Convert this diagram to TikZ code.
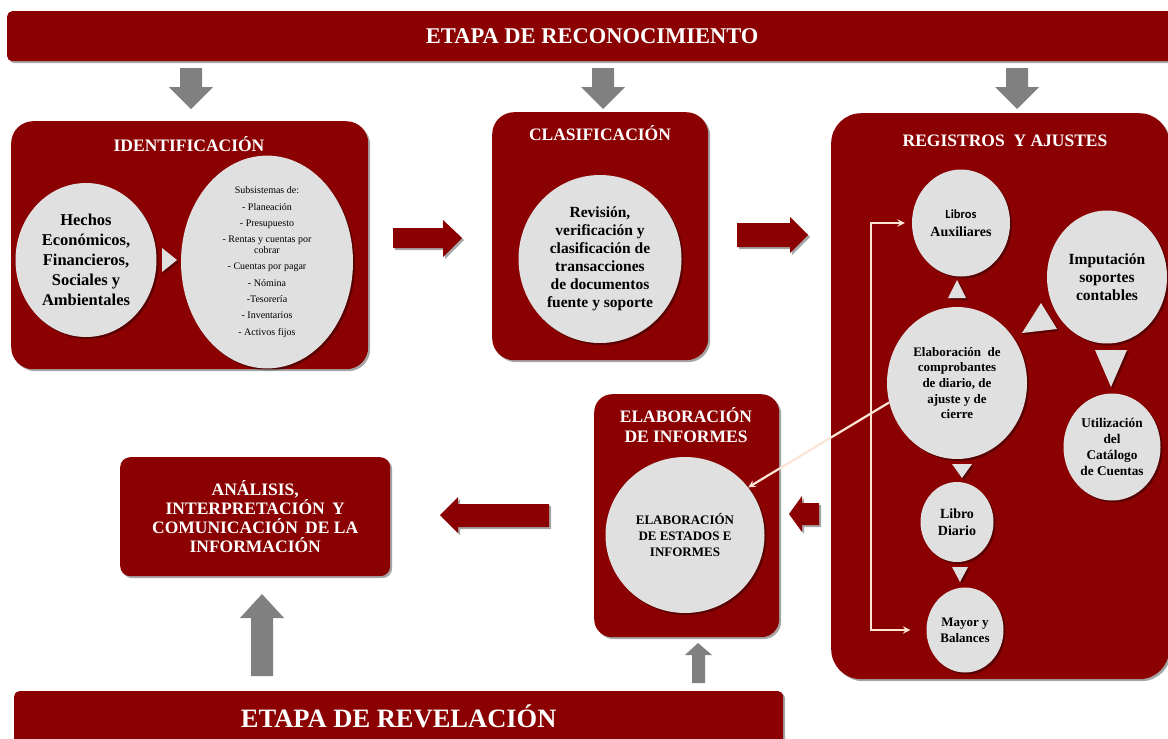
\documentclass[tikz,border=0pt]{standalone}
\usepackage{fontspec}
\setmainfont{Liberation Serif}
\newfontfamily\calfont{Carlito}
\usetikzlibrary{calc, positioning, shapes.geometric, shadows}

\definecolor{darkred}{RGB}{139,0,0}
\definecolor{bubblegray}{RGB}{224,224,224}
\definecolor{arrowgray}{RGB}{128,128,128}
\definecolor{cream}{RGB}{253,229,214}

\tikzset{
  softshadow/.style={drop shadow={shadow xshift=2pt, shadow yshift=-2pt, opacity=0.35, fill=black}},
  stagebar/.style={fill=darkred, rounded corners=5pt, anchor=north west, inner sep=0pt,
    text=white, text depth=0pt, softshadow},
  phasebox/.style={fill=darkred, anchor=north west, inner sep=0pt, softshadow},
  phasetitle/.style={text=white, align=center, inner sep=0pt,
    font=\bfseries\fontsize{17.5}{20}\selectfont},
  bubble/.style={ellipse, fill=bubblegray, inner sep=0pt, align=center, softshadow},
  pointer/.style={fill=bubblegray, softshadow},
  grayblock/.style={fill=arrowgray},
  redblock/.style={fill=darkred, softshadow},
  creamline/.style={draw=cream, line width=2.2pt},
}

\begin{document}
\begin{tikzpicture}[x=1pt, y=-1pt, >=stealth]
  \useasboundingbox (0,0) rectangle (1168,739);
  \fill[white] (0,0) rectangle (1168,739);

  % stage banners
  \node[stagebar, minimum width=1170pt, minimum height=50pt, text height=14.9pt,
        font=\bfseries\fontsize{22.5}{26}\selectfont] (reco) at (7,11) {ETAPA DE RECONOCIMIENTO};
  \node[stagebar, minimum width=769pt, minimum height=55pt, text height=17.5pt,
        font=\bfseries\fontsize{26.5}{30}\selectfont] (reve) at (14,691) {ETAPA DE REVELACIÓN};

  % gray block arrows
  \foreach \cx in {191,603,1017}
    \fill[grayblock] (\cx-11,68) -- (\cx+11,68) -- (\cx+11,87) -- (\cx+22,87)
      -- (\cx,109) -- (\cx-22,87) -- (\cx-11,87) -- cycle;
  \fill[grayblock] (251,676) -- (273,676) -- (273,618) -- (284,618) -- (262,594)
    -- (240,618) -- (251,618) -- cycle;
  \fill[grayblock] (692,683) -- (705,683) -- (705,655) -- (712,655) -- (698,643)
    -- (685,655) -- (692,655) -- cycle;

  % phase boxes
  \node[phasebox, rounded corners=22pt, minimum width=357pt, minimum height=248pt] (idbox) at (11,121) {};
  \node[phasebox, rounded corners=22pt, minimum width=216pt, minimum height=248pt] (clbox) at (492,112) {};
  \node[phasebox, rounded corners=30pt, minimum width=338pt, minimum height=566pt] (regbox) at (831,113) {};
  \node[phasebox, rounded corners=18pt, minimum width=185pt, minimum height=243pt] (infbox) at (594,394) {};
  \node[phasebox, rounded corners=10pt, minimum width=270pt, minimum height=119pt, align=center,
        text=white, font=\bfseries\fontsize{17.5}{19}\selectfont] (anbox) at (120,457)
        {ANÁLISIS,\\INTERPRETACIÓN\ \,Y\\COMUNICACIÓN\ \,DE LA\\INFORMACIÓN};

  \node[phasetitle] (idtitle) at (189,144) {IDENTIFICACIÓN};
  \node[phasetitle] (cltitle) at (600,133) {CLASIFICACIÓN};
  \node[phasetitle] (regtitle) at (1005,141) {REGISTROS\ \ Y AJUSTES};
  \node[phasetitle] (inftitle) at (686,425) {ELABORACIÓN\\DE INFORMES};

  % red block arrows
  \fill[redblock] (393,228) -- (443,228) -- (443,220) -- (462,238) -- (443,257) -- (443,248) -- (393,248) -- cycle;
  \fill[redblock] (737,223) -- (790,223) -- (790,217) -- (808,235) -- (790,253) -- (790,247) -- (737,247) -- cycle;
  \fill[redblock] (819,503) -- (802,503) -- (802,496) -- (789,514) -- (802,532) -- (802,525) -- (819,525) -- cycle;
  \fill[redblock] (549,504) -- (458,504) -- (458,497) -- (440,515) -- (458,533) -- (458,527) -- (549,527) -- cycle;

  % bubbles
  \node[bubble, minimum width=141pt, minimum height=154pt,
        font=\bfseries\fontsize{16.5}{20}\selectfont] (hechos) at (86,260)
        {Hechos\\Económicos,\\Financieros,\\Sociales y\\Ambientales};
  \node[bubble, minimum width=172pt, minimum height=176pt,
        font=\fontsize{10}{16.3}\selectfont] (subsis) at (267,262)
        {Subsistemas de:\\- Planeación\\- Presupuesto\\- Rentas y cuentas por\\[-5.3pt]cobrar\\- Cuentas por pagar\\- Nómina\\-Tesorería\\- Inventarios\\- Activos fijos};
  \node[bubble, minimum width=163pt, minimum height=168pt,
        font=\bfseries\fontsize{15.5}{18}\selectfont] (revision) at (600,259)
        {Revisión,\\verificación y\\clasificación de\\transacciones\\de documentos\\fuente y soporte};
  \node[bubble, minimum width=98pt, minimum height=107pt,
        font=\bfseries\fontsize{14}{18}\selectfont] (aux) at (961,223)
        {{\calfont\fontsize{12.5}{18}\selectfont Libros}\\Auxiliares};
  \node[bubble, minimum width=120pt, minimum height=133pt,
        font=\bfseries\fontsize{15.5}{18}\selectfont] (imput) at (1107,277)
        {Imputación\\soportes\\contables};
  \node[bubble, minimum width=140pt, minimum height=152pt,
        font=\bfseries\fontsize{13}{15.6}\selectfont] (elab) at (957,383)
        {Elaboración\ \ de\\comprobantes\\de diario,\ de\\ajuste\ y de\\cierre};
  \node[bubble, minimum width=97pt, minimum height=107pt,
        font=\bfseries\fontsize{13.3}{16}\selectfont] (utiliz) at (1112,447)
        {Utilización\\del\\Catálogo\\de Cuentas};
  \node[bubble, minimum width=73pt, minimum height=80pt,
        font=\bfseries\fontsize{14}{17}\selectfont] (diario) at (957,522)
        {Libro\\Diario};
  \node[bubble, minimum width=77pt, minimum height=85pt,
        font=\bfseries\fontsize{13}{16}\selectfont] (mayor) at (965,630)
        {Mayor y\\Balances};
  \node[bubble, minimum width=159pt, minimum height=156pt,
        font=\bfseries\fontsize{13}{16}\selectfont] (estados) at (685,535)
        {ELABORACIÓN\\DE ESTADOS\ E\\INFORMES};

  % small pointers
  \fill[pointer] (162,248) -- (162,272) -- (177,260) -- cycle;
  \fill[pointer] (948,298) -- (966,298) -- (957,280) -- cycle;
  \fill[pointer] (1022,333) -- (1057,329) -- (1041,303) -- cycle;
  \fill[pointer] (1095,350) -- (1127,350) -- (1111,387) -- cycle;
  \fill[pointer] (952,464) -- (972,464) -- (962,478) -- cycle;
  \fill[pointer] (952,567) -- (968,567) -- (960,582) -- cycle;

  % cream connectors
  \draw[creamline, <->, shorten <=7pt, shorten >=16pt] (aux.west) -- ++(-41,0) |- (mayor.west);
  \draw[creamline, ->] (elab.196) -- (estados.37);
\end{tikzpicture}
\end{document}
